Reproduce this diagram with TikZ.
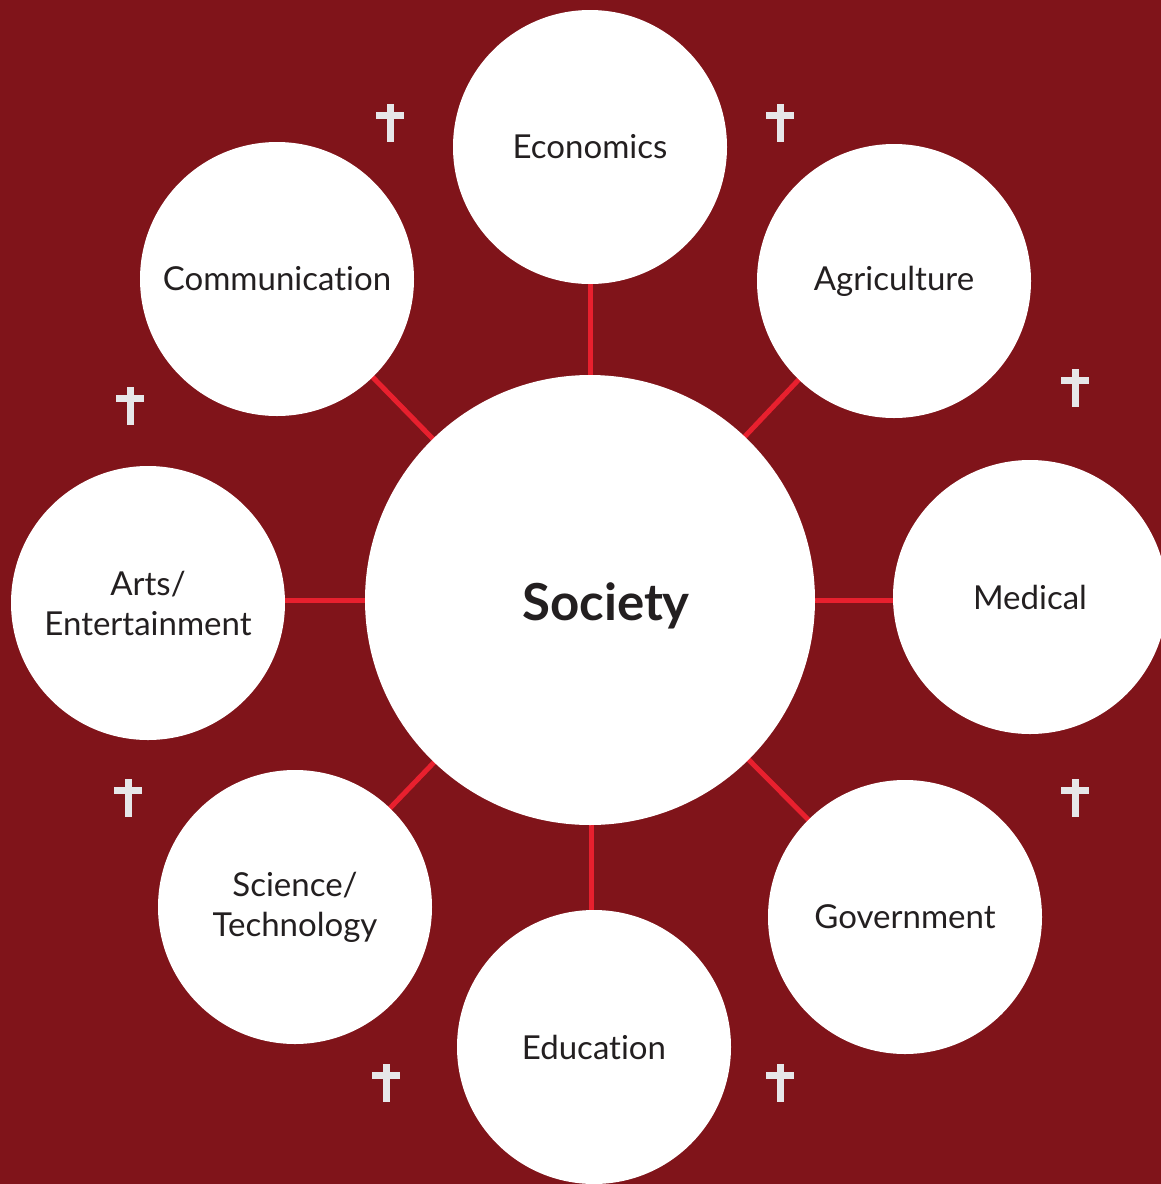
\documentclass[tikz,border=0pt]{standalone}
\usepackage{fontspec}
\setmainfont[Ligatures={NoCommon,NoRare,NoContextual}]{Lato}
\definecolor{bg}{HTML}{80141A}
\definecolor{link}{HTML}{E8202E}
\definecolor{crossc}{HTML}{E6E7E9}
\definecolor{txt}{HTML}{231F20}
\begin{document}
\begin{tikzpicture}[x=1pt,y=-1pt,
  topic/.style={circle,fill=white,minimum size=274pt,inner sep=0pt,text=txt,font=\fontsize{33}{40}\selectfont,align=center},
  hub/.style={circle,fill=white,minimum size=450pt,inner sep=0pt},
  hubtext/.style={inner sep=0pt,text=txt,font=\fontsize{51}{58}\selectfont\bfseries},
  linkline/.style={draw=link,line width=5pt},
  crossbar/.style={fill=crossc}]
\fill[bg] (0,0) rectangle (1161,1184);
\useasboundingbox (0,0) rectangle (1161,1184);
\coordinate (cS) at (590,600);
\coordinate (cEco) at (590,147);
\coordinate (cAgr) at (894,279);
\coordinate (cMed) at (1030,597);
\coordinate (cGov) at (905,917);
\coordinate (cEdu) at (594,1047);
\coordinate (cSci) at (295,907);
\coordinate (cArt) at (148,603);
\coordinate (cCom) at (277,279);
\draw[linkline] (cS) -- (cEco);
\draw[linkline] (cS) -- (cAgr);
\draw[linkline] (590,600) -- (1030,600);
\draw[linkline] (cS) -- (cGov);
\draw[linkline] (591,600) -- (591,1047);
\draw[linkline] (cS) -- (cSci);
\draw[linkline] (148,600) -- (590,600);
\draw[linkline] (cS) -- (cCom);
\node[hub] (soc) at (cS) {};
\node[hubtext] (socl) at (606,606) {Society};
\node[topic] (eco) at (cEco) {Economics};
\node[topic] (agr) at (894,281) {Agriculture};
\node[topic] (med) at (cMed) {Medical};
\node[topic] (gov) at (cGov) {Government};
\node[topic] (edu) at (cEdu) {Education};
\node[topic] (sci) at (cSci) {Science/\\Technology};
\node[topic] (art) at (cArt) {Arts/\\Entertainment};
\node[topic] (com) at (cCom) {Communication};
\foreach \cx/\cy in {390/104,780/104,1075/369,1075/779,780/1064,386/1064,128/779,130/387}{
  \fill[crossbar] (\cx-3.5,\cy) rectangle (\cx+3.5,\cy+38);
  \fill[crossbar] (\cx-14,\cy+8) rectangle (\cx+14,\cy+15);
}
\end{tikzpicture}
\end{document}
